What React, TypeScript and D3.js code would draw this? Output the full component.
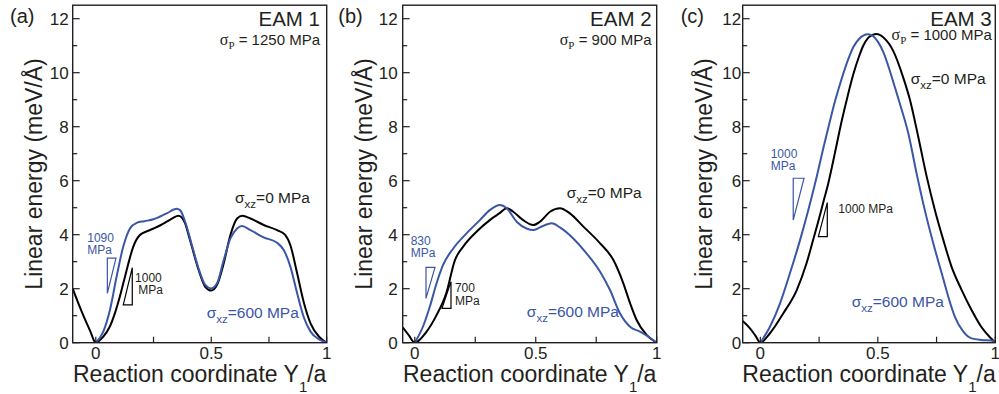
import * as d3 from 'd3';
import { useEffect, useRef } from 'react';

type Pt = [number, number];

// EAM 1 (sigma_xz = 0 and 600 MPa)
const eam1Zero: Pt[] = [
    [-0.1, 2.0], [-0.075, 1.45], [-0.05, 0.93], [-0.025, 0.45], [0, 0], [0.03, 0.2], [0.061, 0.6],
    [0.085, 1.15], [0.104, 1.7], [0.125, 2.4], [0.14, 2.9], [0.162, 3.55], [0.19, 3.98], [0.22, 4.12],
    [0.25, 4.23], [0.28, 4.35], [0.307, 4.48], [0.335, 4.62], [0.357, 4.7], [0.372, 4.64],
    [0.387, 4.42], [0.4, 4.05], [0.416, 3.56], [0.445, 2.7], [0.474, 2.07], [0.5, 1.93],
    [0.525, 2.14], [0.554, 2.94], [0.583, 3.99], [0.612, 4.6], [0.635, 4.7], [0.67, 4.6],
    [0.727, 4.36], [0.785, 4.17], [0.82, 3.99], [0.843, 3.6], [0.872, 2.57], [0.9, 1.52],
    [0.93, 0.72], [0.967, 0.22], [1, 0]
];
const eam1Shear: Pt[] = [
    [0, 0], [0.032, 0.4], [0.061, 1.2], [0.09, 2.44], [0.119, 3.56], [0.148, 4.23], [0.177, 4.44],
    [0.21, 4.5], [0.25, 4.57], [0.307, 4.79], [0.35, 4.96], [0.365, 4.91], [0.387, 4.48],
    [0.416, 3.62], [0.445, 2.75], [0.474, 2.14], [0.5, 2.01], [0.525, 2.2], [0.554, 3.06],
    [0.583, 3.86], [0.612, 4.23], [0.633, 4.32], [0.67, 4.17], [0.727, 3.9], [0.785, 3.7],
    [0.814, 3.43], [0.843, 2.81], [0.872, 1.83], [0.9, 0.96], [0.93, 0.41], [0.967, 0.12], [1, 0]
];

// EAM 2
const eam2Zero: Pt[] = [
    [-0.05, 0.57], [-0.025, 0.28], [0, 0], [0.048, 0.4], [0.09, 1.02], [0.13, 1.83], [0.166, 3.06],
    [0.2, 3.56], [0.255, 4.11], [0.31, 4.54], [0.352, 4.81], [0.38, 4.98], [0.407, 4.85],
    [0.448, 4.54], [0.49, 4.36], [0.517, 4.48], [0.559, 4.85], [0.6, 4.98], [0.641, 4.79],
    [0.697, 4.3], [0.766, 3.68], [0.821, 3.06], [0.862, 2.2], [0.89, 1.46], [0.917, 0.84],
    [0.959, 0.28], [1, 0]
];
const eam2Shear: Pt[] = [
    [0, 0], [0.034, 0.6], [0.062, 1.33], [0.09, 2.2], [0.117, 2.88], [0.159, 3.49], [0.214, 4.05],
    [0.269, 4.54], [0.31, 4.91], [0.352, 5.1], [0.38, 4.98], [0.421, 4.48], [0.462, 4.23],
    [0.49, 4.17], [0.517, 4.27], [0.566, 4.42], [0.6, 4.27], [0.655, 3.86], [0.71, 3.31],
    [0.766, 2.63], [0.807, 1.95], [0.848, 1.09], [0.89, 0.59], [0.931, 0.41], [0.966, 0.22], [1, 0]
];

// EAM 3
const eam3Zero: Pt[] = [
    [-0.075, 0.8], [-0.044, 0.53], [-0.02, 0.25], [0, 0], [0.041, 0.35], [0.098, 1.09],
    [0.155, 1.95], [0.197, 2.95], [0.226, 3.85], [0.25, 4.6], [0.268, 5.2], [0.289, 5.9],
    [0.318, 7.05], [0.346, 8.2], [0.372, 9.15], [0.396, 9.95], [0.42, 10.6], [0.438, 11.0],
    [0.46, 11.3], [0.478, 11.4], [0.495, 11.43], [0.524, 11.3], [0.566, 10.8], [0.609, 9.8],
    [0.637, 8.99], [0.672, 7.63], [0.708, 6.15], [0.743, 4.91], [0.779, 3.8], [0.814, 2.81],
    [0.857, 1.95], [0.899, 1.21], [0.94, 0.59], [0.977, 0.2], [1, 0]
];
const eam3Shear: Pt[] = [
    [0, 0], [0.041, 0.59], [0.084, 1.46], [0.126, 2.57], [0.169, 3.8], [0.204, 4.91], [0.24, 6.15],
    [0.268, 7.2], [0.296, 8.2], [0.318, 8.95], [0.34, 9.6], [0.37, 10.4], [0.396, 10.95],
    [0.42, 11.25], [0.44, 11.38], [0.455, 11.42], [0.475, 11.38], [0.5, 11.15], [0.524, 10.75],
    [0.55, 10.1], [0.566, 9.65], [0.594, 8.85], [0.63, 7.75], [0.665, 6.27], [0.7, 4.91],
    [0.736, 3.68], [0.772, 2.57], [0.8, 1.7], [0.828, 0.96], [0.864, 0.41], [0.899, 0.16],
    [0.94, 0.1], [0.983, 0.08], [1, 0.03]
];

const yMajorTicks = [0, 2, 4, 6, 8, 10, 12];
const yMinorTicks = [1, 3, 5, 7, 9, 11];
const xMajorTicks = [0, 0.5, 1];
const xTickLabels = ['0', '0.5', '1'];
const xMinorTicks = [0.25, 0.75];

const panelLabels = ['(a)', '(b)', '(c)'];
const potentialNames = ['EAM 1', 'EAM 2', 'EAM 3'];
const peierlsStress = ['1250', '900', '1000'];
const shearSlopes = ['1090', '830', '1000'];
const zeroSlopes = ['1000', '700', '1000'];

const BLUE = '#3a56a6';
const INK = '#231f20';
const FONT = '"Liberation Sans", Arial, Helvetica, sans-serif';
const SERIF = '"Liberation Serif", "Times New Roman", serif';

const panels = [
    {
        zero: eam1Zero, shear: eam1Shear, xMin: -0.1, left: 72.7, right: 326.7, tickPad: 4, yTitleX: 41.7, labelX: 10,
        nameAt: [0.971, 11.73], peierlsAt: [0.971, 11.03], zeroLabel: [0.603, 5.16], shearLabel: [0.48, 0.9],
        shearTri: [[0.05, 3.13], [0.0875, 3.13], [0.05, 1.83]], zeroTri: [[0.119, 1.4], [0.158, 1.4], [0.158, 2.78]],
        shearText: [[-0.037, 3.74], [-0.037, 3.29]], zeroText: [[0.17, 2.26], [0.184, 1.8]], zeroInline: false
    },
    {
        zero: eam2Zero, shear: eam2Shear, xMin: -0.05, left: 402.7, right: 656.7, tickPad: 5, yTitleX: 371.7, labelX: 338.3,
        nameAt: [0.979, 11.73], peierlsAt: [0.979, 11.03], zeroLabel: [0.628, 5.35], shearLabel: [0.463, 0.96],
        shearTri: [[0.0463, 2.79], [0.0835, 2.79], [0.0463, 1.64]], zeroTri: [[0.1124, 1.27], [0.1496, 1.27], [0.1496, 2.26]],
        shearText: [[-0.017, 3.62], [-0.017, 3.16]], zeroText: [[0.166, 1.87], [0.166, 1.4]], zeroInline: false
    },
    {
        zero: eam3Zero, shear: eam3Shear, xMin: -0.075, left: 742.7, right: 995.3, tickPad: 1.5, yTitleX: 711.7, labelX: 680.7,
        nameAt: [0.985, 11.73], peierlsAt: [0.985, 11.21], zeroLabel: [0.64, 9.58], shearLabel: [0.389, 1.33],
        shearTri: [[0.14, 6.09], [0.186, 6.09], [0.14, 4.54]], zeroTri: [[0.247, 3.93], [0.285, 3.93], [0.285, 5.19]],
        shearText: [[0.044, 6.83], [0.044, 6.4]], zeroText: [[0.332, 4.81], [0.332, 4.81]], zeroInline: true
    }
];

const App: React.FC = () => {
    const svgRef = useRef<SVGSVGElement>(null);

    useEffect(() => {
        const svg = d3.select(svgRef.current);
        svg.selectAll('*').remove();

        const top = 5.2;
        const bottom = 342.7;

        panels.forEach((p, i) => {
            const x = d3.scaleLinear().domain([p.xMin, 1]).range([p.left, p.right]);
            const y = d3.scaleLinear().domain([0, 12.5]).range([bottom, top]);
            const g = svg.append('g');

            // clip for curves
            const clipId = `clip-${i}`;
            svg.append('clipPath').attr('id', clipId)
                .append('rect')
                .attr('x', p.left).attr('y', top)
                .attr('width', p.right - p.left).attr('height', bottom - top);

            const line = d3.line<Pt>()
                .x((d) => x(d[0]))
                .y((d) => y(d[1]))
                .curve(d3.curveMonotoneX);

            g.append('path').datum(p.zero)
                .attr('clip-path', `url(#${clipId})`)
                .attr('fill', 'none').attr('stroke', '#000').attr('stroke-width', 2)
                .attr('d', line);
            g.append('path').datum(p.shear)
                .attr('clip-path', `url(#${clipId})`)
                .attr('fill', 'none').attr('stroke', BLUE).attr('stroke-width', 2)
                .attr('d', line);

            // frame
            g.append('rect')
                .attr('x', p.left).attr('y', top)
                .attr('width', p.right - p.left).attr('height', bottom - top)
                .attr('fill', 'none').attr('stroke', INK).attr('stroke-width', 1.4);

            // y ticks (inward)
            g.selectAll('.ymaj').data(yMajorTicks).enter().append('line')
                .attr('x1', p.left).attr('x2', p.left + 7)
                .attr('y1', (d) => y(d)).attr('y2', (d) => y(d))
                .attr('stroke', INK).attr('stroke-width', 1.2);
            g.selectAll('.ymin').data(yMinorTicks).enter().append('line')
                .attr('x1', p.left).attr('x2', p.left + 4.5)
                .attr('y1', (d) => y(d)).attr('y2', (d) => y(d))
                .attr('stroke', INK).attr('stroke-width', 1.2);
            g.selectAll('.ylab').data(yMajorTicks).enter().append('text')
                .attr('x', p.left - p.tickPad).attr('y', (d) => y(d) + 6.3)
                .attr('text-anchor', 'end')
                .style('font-family', FONT).style('font-size', '17px').attr('fill', INK)
                .text((d) => String(d));

            // x ticks
            g.selectAll('.xt').data([...xMajorTicks, ...xMinorTicks]).enter().append('line')
                .attr('x1', (d) => x(d)).attr('x2', (d) => x(d))
                .attr('y1', bottom).attr('y2', bottom - 6)
                .attr('stroke', INK).attr('stroke-width', 1.2);
            g.selectAll('.xlab').data(xMajorTicks).enter().append('text')
                .attr('x', (d) => x(d)).attr('y', 359.3)
                .attr('text-anchor', 'middle')
                .style('font-family', FONT).style('font-size', '17px').attr('fill', INK)
                .text((d, j) => xTickLabels[j]);

            // axis titles
            const xt = g.append('text')
                .attr('x', (p.left + p.right) / 2).attr('y', 381.7)
                .attr('text-anchor', 'middle')
                .style('font-family', FONT).style('font-size', '23px').attr('fill', INK);
            xt.append('tspan').text('Reaction coordinate Y');
            xt.append('tspan').attr('dy', 10).style('font-size', '15px').text('1');
            xt.append('tspan').attr('dy', -10).text('/a');

            g.append('text')
                .attr('transform', `translate(${p.yTitleX},${(top + bottom) / 2}) rotate(-90)`)
                .attr('text-anchor', 'middle')
                .style('font-family', FONT).style('font-size', '23px').attr('fill', INK)
                .text('Linear energy (meV/Å)');

            // panel label
            g.append('text')
                .attr('x', p.labelX).attr('y', 23.3)
                .style('font-family', FONT).style('font-size', '20px').attr('fill', INK)
                .text(panelLabels[i]);

            // potential name and Peierls stress
            g.append('text')
                .attr('x', x(p.nameAt[0])).attr('y', y(p.nameAt[1]))
                .attr('text-anchor', 'end')
                .style('font-family', FONT).style('font-size', '20.5px').attr('fill', INK)
                .text(potentialNames[i]);
            const pt = g.append('text')
                .attr('x', x(p.peierlsAt[0])).attr('y', y(p.peierlsAt[1]))
                .attr('text-anchor', 'end')
                .style('font-family', FONT).style('font-size', '15px').attr('fill', INK);
            pt.append('tspan').style('font-family', SERIF).style('font-size', '16px').text('σ');
            pt.append('tspan').attr('dy', 4).style('font-family', SERIF).style('font-size', '11px').text('P');
            pt.append('tspan').attr('dy', -4).text(` = ${peierlsStress[i]} MPa`);

            // curve labels
            const sigma = (pos: number[], value: string, color: string) => {
                const t = g.append('text')
                    .attr('x', x(pos[0])).attr('y', y(pos[1]))
                    .style('font-family', FONT).style('font-size', '15.5px').attr('fill', color);
                t.append('tspan').text('σ');
                t.append('tspan').attr('dy', 5).style('font-size', '11.5px').text('xz');
                t.append('tspan').attr('dy', -5).text(`=${value} MPa`);
            };
            sigma(p.zeroLabel, '0', INK);
            sigma(p.shearLabel, '600', BLUE);

            // slope triangles
            const tri = d3.line<number[]>().x((d) => x(d[0])).y((d) => y(d[1]));
            g.append('path').attr('d', tri(p.shearTri) + 'Z')
                .attr('fill', 'none').attr('stroke', BLUE).attr('stroke-width', 1.2);
            g.append('path').attr('d', tri(p.zeroTri) + 'Z')
                .attr('fill', 'none').attr('stroke', '#000').attr('stroke-width', 1.2);

            const small = (pos: number[], text: string, color: string) => {
                g.append('text')
                    .attr('x', x(pos[0])).attr('y', y(pos[1]))
                    .style('font-family', FONT).style('font-size', '12px').attr('fill', color)
                    .text(text);
            };
            small(p.shearText[0], shearSlopes[i], BLUE);
            small(p.shearText[1], 'MPa', BLUE);
            if (p.zeroInline) {
                small(p.zeroText[0], `${zeroSlopes[i]} MPa`, INK);
            } else {
                small(p.zeroText[0], zeroSlopes[i], INK);
                small(p.zeroText[1], 'MPa', INK);
            }
        });
    }, []);

    return (
        <div style={{ position: 'absolute', left: 0, top: 0 }}>
            <svg ref={svgRef} width={999} height={394} style={{ display: 'block', background: '#fff' }}></svg>
        </div>
    );
};

export default App;
